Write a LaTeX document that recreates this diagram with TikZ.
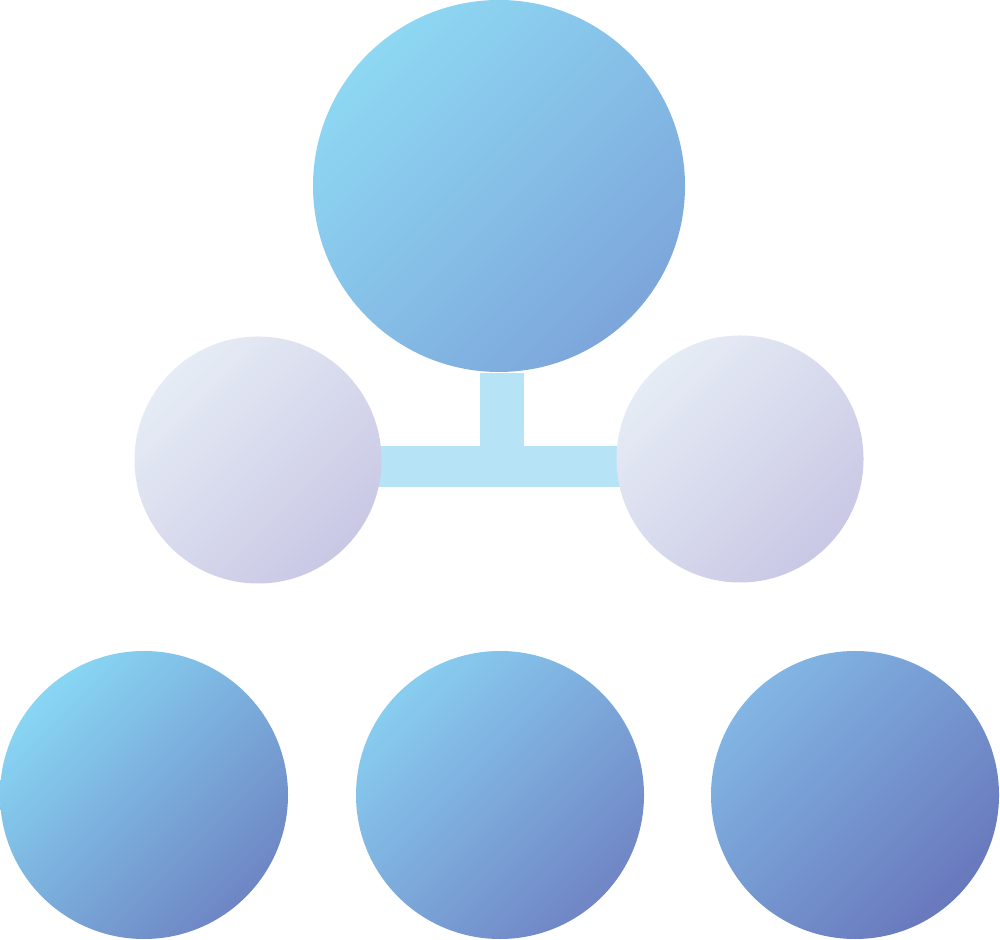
\documentclass[tikz,border=0pt]{standalone}
\usetikzlibrary{backgrounds}

\begin{document}
\begin{tikzpicture}
          [x=1cm, y=1cm,
           every node/.style = {circle, inner sep = 0pt},
           ball/.style 2 args = {top color = #1, bottom color = #2, shading angle = 45},
           stem/.style  = {draw = stemcolor, line cap = butt}]

% Define node colors
\definecolor{hubtop}{HTML}{8ED8F3}
\definecolor{hubbot}{HTML}{7DA6DB}
\definecolor{paletop}{HTML}{E6ECF5}
\definecolor{palebot}{HTML}{C9C8E5}
\definecolor{lefttop}{HTML}{88D6F4}
\definecolor{leftbot}{HTML}{6E86C4}
\definecolor{midtop}{HTML}{88CDF0}
\definecolor{midbot}{HTML}{7085C5}
\definecolor{righttop}{HTML}{82B6E4}
\definecolor{rightbot}{HTML}{6878BC}
\definecolor{stemcolor}{HTML}{B7E3F6}

\useasboundingbox (0,0) rectangle (10,9.39);

% top circle
  \node [ball={hubtop}{hubbot}, minimum size = 3.72cm](hub) at (4.99,7.53){};

% middle pair
  \node [ball={paletop}{palebot}, minimum size = 2.47cm](midl) at (2.58,4.79){};
  \node [ball={paletop}{palebot}, minimum size = 2.47cm](midr) at (7.40,4.80){};

% bottom row
  \node [ball={lefttop}{leftbot}, minimum size = 2.88cm](botl) at (1.44,1.44){};
  \node [ball={midtop}{midbot}, minimum size = 2.88cm](botm) at (5.00,1.44){};
  \node [ball={righttop}{rightbot}, minimum size = 2.88cm](botr) at (8.55,1.44){};

% the T joint
\coordinate (joint) at (5.02,4.72);
\begin{scope}[on background layer]
   \draw [stem, line width = 0.44cm] ([xshift=0.03cm]hub.south) -- (joint);
   \draw [stem, line width = 0.41cm] (midl.center |- joint) -- (midr.center |- joint);
\end{scope}

\end{tikzpicture}
\end{document}
